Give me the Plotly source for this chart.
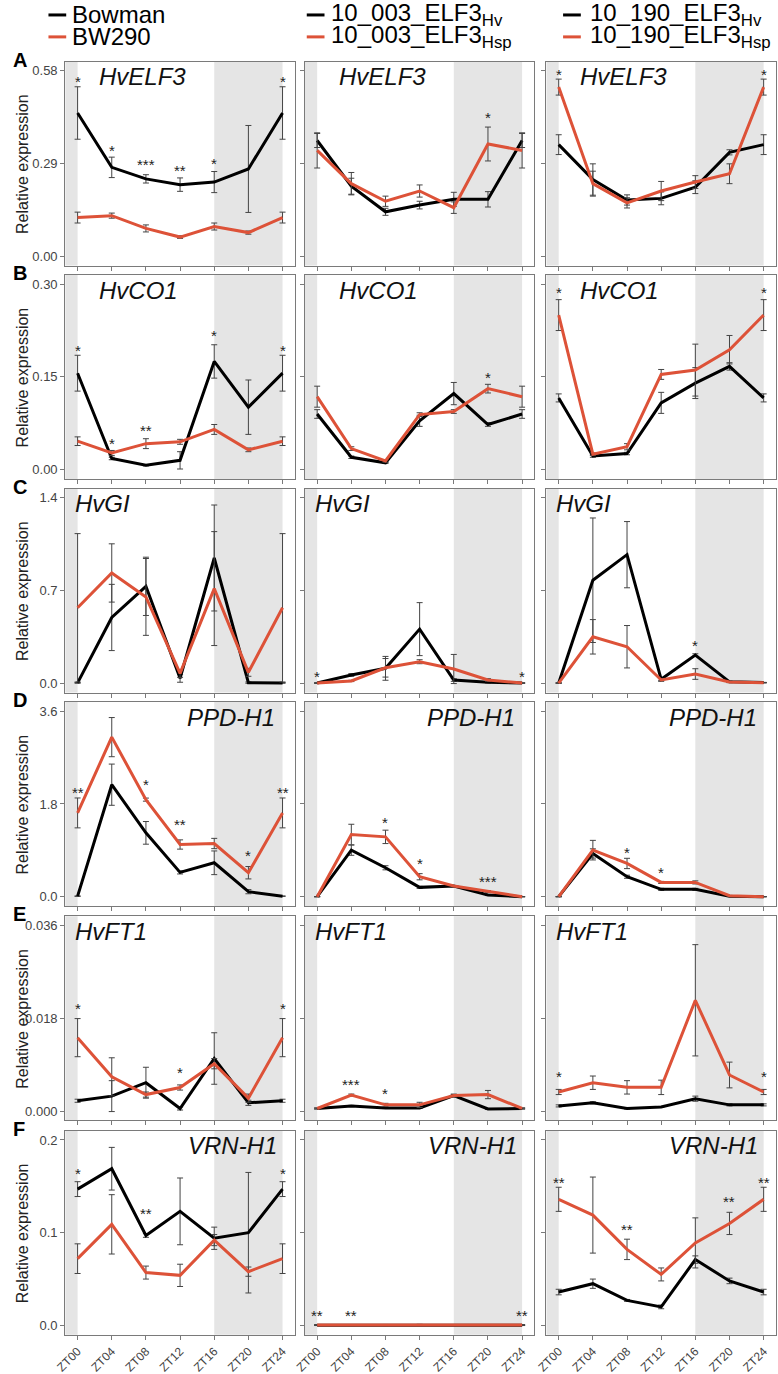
import plotly.graph_objects as go

# ---------------- data ----------------
ZT = [0, 4, 8, 12, 16, 20, 24]
ZT_LABELS = ["ZT00", "ZT04", "ZT08", "ZT12", "ZT16", "ZT20", "ZT24"]
GENES = ["HvELF3", "HvCO1", "HvGI", "PPD-H1", "HvFT1", "VRN-H1"]
ROW_LETTERS = ["A", "B", "C", "D", "E", "F"]
Y_TICKVALS = [[0.0, 0.29, 0.58], [0.0, 0.15, 0.30], [0.0, 0.7, 1.4],
              [0.0, 1.8, 3.6], [0.0, 0.018, 0.036], [0.0, 0.1, 0.2]]
Y_TICKTEXT = [["0.00", "0.29", "0.58"], ["0.00", "0.15", "0.30"], ["0.0", "0.7", "1.4"],
              ["0.0", "1.8", "3.6"], ["0.000", "0.018", "0.036"], ["0.0", "0.1", "0.2"]]
LEGEND_BLACK = ["Bowman", "10_003_ELF3<sub>Hv</sub>", "10_190_ELF3<sub>Hv</sub>"]
LEGEND_RED = ["BW290", "10_003_ELF3<sub>Hsp</sub>", "10_190_ELF3<sub>Hsp</sub>"]

# Row A  HvELF3
A1_black = [0.448, 0.278, 0.242, 0.224, 0.232, 0.273, 0.448]
A1_black_err = [0.082, 0.032, 0.013, 0.021, 0.033, 0.136, 0.082]
A1_red = [0.121, 0.127, 0.087, 0.060, 0.093, 0.074, 0.121]
A1_red_err = [0.017, 0.008, 0.011, 0.004, 0.011, 0.005, 0.017]
A1_stars = ["*", "*", "***", "**", "*", "", "*"]
A1_star_y = [0.559, 0.342, 0.299, 0.280, 0.302, None, 0.559]

A2_black = [0.362, 0.219, 0.139, 0.160, 0.178, 0.178, 0.362]
A2_black_err = [0.022, 0.025, 0.011, 0.012, 0.022, 0.024, 0.022]
A2_red = [0.331, 0.227, 0.172, 0.204, 0.152, 0.351, 0.331]
A2_red_err = [0.055, 0.035, 0.016, 0.019, 0.018, 0.053, 0.055]
A2_stars = ["", "", "", "", "", "*", ""]
A2_star_y = [None, None, None, None, None, 0.445, None]

A3_black = [0.349, 0.240, 0.176, 0.181, 0.216, 0.325, 0.349]
A3_black_err = [0.031, 0.049, 0.016, 0.020, 0.020, 0.008, 0.031]
A3_red = [0.529, 0.227, 0.167, 0.204, 0.232, 0.258, 0.529]
A3_red_err = [0.025, 0.039, 0.016, 0.030, 0.020, 0.031, 0.025]
A3_stars = ["*", "", "", "", "", "", "*"]
A3_star_y = [0.58, None, None, None, None, None, 0.58]

# Row B  HvCO1
B1_black = [0.156, 0.018, 0.007, 0.015, 0.175, 0.101, 0.156]
B1_black_err = [0.029, 0.002, 0.001, 0.014, 0.027, 0.044, 0.029]
B1_red = [0.046, 0.027, 0.042, 0.045, 0.065, 0.032, 0.046]
B1_red_err = [0.007, 0.004, 0.008, 0.004, 0.008, 0.003, 0.007]
B1_stars = ["*", "*", "**", "", "*", "", "*"]
B1_star_y = [0.199, 0.048, 0.069, None, 0.222, None, 0.199]

B2_black = [0.090, 0.020, 0.011, 0.079, 0.123, 0.073, 0.090]
B2_black_err = [0.007, 0.002, 0.001, 0.009, 0.018, 0.003, 0.007]
B2_red = [0.118, 0.034, 0.014, 0.089, 0.094, 0.131, 0.118]
B2_red_err = [0.017, 0.003, 0.002, 0.003, 0.003, 0.007, 0.017]
B2_stars = ["", "", "", "", "", "*", ""]
B2_star_y = [None, None, None, None, None, 0.155, None]

B3_black = [0.116, 0.022, 0.026, 0.108, 0.140, 0.167, 0.116]
B3_black_err = [0.0065, 0.002, 0.002, 0.017, 0.025, 0.006, 0.0065]
B3_red = [0.250, 0.025, 0.037, 0.154, 0.161, 0.194, 0.250]
B3_red_err = [0.025, 0.002, 0.005, 0.008, 0.042, 0.023, 0.025]
B3_stars = ["*", "", "", "", "", "", "*"]
B3_star_y = [0.292, None, None, None, None, None, 0.292]

# Row C  HvGI
C1_black = [0.003, 0.497, 0.732, 0.038, 0.946, 0.005, 0.003]
C1_black_err = [0.003, 0.25, 0.22, 0.03, 0.40, 0.005, 0.003]
C1_red = [0.57, 0.833, 0.652, 0.075, 0.715, 0.083, 0.57]
C1_red_err = [0.56, 0.22, 0.29, 0.03, 0.43, 0.03, 0.56]
C1_stars = ["", "", "", "", "", "", ""]
C1_star_y = [None] * 7

C2_black = [0.002, 0.063, 0.113, 0.409, 0.025, 0.008, 0.002]
C2_black_err = [0.001, 0.01, 0.09, 0.2, 0.01, 0.005, 0.001]
C2_red = [0.002, 0.018, 0.117, 0.163, 0.108, 0.025, 0.002]
C2_red_err = [0.001, 0.005, 0.07, 0.015, 0.11, 0.01, 0.001]
C2_stars = ["*", "", "", "", "", "", "*"]
C2_star_y = [0.075, None, None, None, None, None, 0.075]

C3_black = [0.002, 0.778, 0.971, 0.03, 0.213, 0.011, 0.006]
C3_black_err = [0.001, 0.47, 0.25, 0.01, 0.01, 0.005, 0.001]
C3_red = [0.002, 0.351, 0.276, 0.025, 0.07, 0.01, 0.004]
C3_red_err = [0.001, 0.13, 0.16, 0.01, 0.04, 0.005, 0.001]
C3_stars = ["", "", "", "", "*", "", ""]
C3_star_y = [None, None, None, None, 0.313, None, None]

# Row D  PPD-H1
D1_black = [0.01, 2.174, 1.239, 0.471, 0.658, 0.097, 0.01]
D1_black_err = [0.005, 0.40, 0.22, 0.03, 0.23, 0.04, 0.005]
D1_red = [1.626, 3.097, 1.884, 1.013, 1.032, 0.465, 1.626]
D1_red_err = [0.29, 0.38, 0.03, 0.09, 0.10, 0.12, 0.29]
D1_stars = ["**", "", "*", "**", "", "*", "**"]
D1_star_y = [2.084, None, 2.24, 1.471, None, 0.871, 2.084]

D2_black = [0.0, 0.903, 0.561, 0.181, 0.206, 0.032, 0.0]
D2_black_err = [0.0, 0.10, 0.04, 0.02, 0.01, 0.01, 0.0]
D2_red = [0.0, 1.206, 1.161, 0.387, 0.206, 0.097, 0.0]
D2_red_err = [0.0, 0.20, 0.13, 0.06, 0.01, 0.02, 0.0]
D2_stars = ["", "", "*", "*", "", "***", ""]
D2_star_y = [None, None, 1.503, 0.71, None, 0.355, None]

D3_black = [0.0, 0.839, 0.387, 0.142, 0.142, 0.01, 0.0]
D3_black_err = [0.0, 0.09, 0.03, 0.02, 0.02, 0.005, 0.0]
D3_red = [0.0, 0.903, 0.645, 0.277, 0.277, 0.02, 0.0]
D3_red_err = [0.0, 0.19, 0.10, 0.02, 0.03, 0.005, 0.0]
D3_stars = ["", "", "*", "*", "", "", ""]
D3_star_y = [None, None, 0.935, 0.529, None, None, None]

# Row E  HvFT1
E1_black = [0.0020, 0.0029, 0.0055, 0.0005, 0.0102, 0.0016, 0.0020]
E1_black_err = [0.0003, 0.003, 0.003, 0.0003, 0.005, 0.0005, 0.0003]
E1_red = [0.01425, 0.00664, 0.0032, 0.00457, 0.0092, 0.0025, 0.01425]
E1_red_err = [0.0037, 0.0037, 0.0005, 0.0005, 0.001, 0.0008, 0.0037]
E1_stars = ["*", "", "", "*", "", "", "*"]
E1_star_y = [0.0205, None, None, 0.0082, None, None, 0.0205]

E2_black = [0.0005, 0.0010, 0.0006, 0.0006, 0.0030, 0.0004, 0.0005]
E2_black_err = [0.0001, 0.0001, 0.0001, 0.0001, 0.0002, 0.0001, 0.0001]
E2_red = [0.0005, 0.0031, 0.0012, 0.0012, 0.0030, 0.0032, 0.0005]
E2_red_err = [0.0001, 0.0002, 0.0003, 0.0005, 0.0003, 0.0008, 0.0001]
E2_stars = ["", "***", "*", "", "", "", ""]
E2_star_y = [None, 0.0059, 0.0041, None, None, None, None]

E3_black = [0.0010, 0.0016, 0.0005, 0.0008, 0.0024, 0.0012, 0.0012]
E3_black_err = [0.0002, 0.0002, 0.0001, 0.0001, 0.0005, 0.0002, 0.0002]
E3_red = [0.0037, 0.0055, 0.0046, 0.0046, 0.0215, 0.0070, 0.0037]
E3_red_err = [0.0005, 0.0013, 0.0013, 0.0014, 0.0108, 0.0025, 0.0005]
E3_stars = ["*", "", "", "", "", "", "*"]
E3_star_y = [0.0074, None, None, None, None, None, 0.0074]

# Row F  VRN-H1
F1_black = [0.147, 0.169, 0.097, 0.123, 0.094, 0.100, 0.147]
F1_black_err = [0.008, 0.023, 0.002, 0.036, 0.012, 0.065, 0.008]
F1_red = [0.072, 0.109, 0.057, 0.054, 0.092, 0.058, 0.072]
F1_red_err = [0.016, 0.032, 0.007, 0.012, 0.006, 0.005, 0.016]
F1_stars = ["*", "", "**", "", "", "", "*"]
F1_star_y = [0.168, None, 0.125, None, None, None, 0.168]

F2_black = [0.0003, 0.0003, 0.0003, 0.0004, 0.0003, 0.0003, 0.0003]
F2_black_err = [0.0004, 0.0004, 0.0004, 0.0004, 0.0004, 0.0004, 0.0004]
F2_red = [0.0004, 0.0004, 0.0005, 0.0006, 0.0004, 0.0004, 0.0004]
F2_red_err = [0.0005, 0.0005, 0.0005, 0.0006, 0.0005, 0.0005, 0.0005]
F2_stars = ["**", "**", "", "", "", "", "**"]
F2_star_y = [0.0146, 0.0146, None, None, None, None, 0.0146]

F3_black = [0.036, 0.045, 0.027, 0.020, 0.071, 0.048, 0.036]
F3_black_err = [0.003, 0.005, 0.001, 0.002, 0.004, 0.003, 0.003]
F3_red = [0.136, 0.119, 0.082, 0.055, 0.089, 0.110, 0.136]
F3_red_err = [0.013, 0.041, 0.011, 0.007, 0.027, 0.012, 0.013]
F3_stars = ["**", "", "**", "", "", "**", "**"]
F3_star_y = [0.158, None, 0.1075, None, None, 0.137, 0.158]

PANELS = [
    [(A1_black, A1_black_err, A1_red, A1_red_err, A1_stars, A1_star_y),
     (A2_black, A2_black_err, A2_red, A2_red_err, A2_stars, A2_star_y),
     (A3_black, A3_black_err, A3_red, A3_red_err, A3_stars, A3_star_y)],
    [(B1_black, B1_black_err, B1_red, B1_red_err, B1_stars, B1_star_y),
     (B2_black, B2_black_err, B2_red, B2_red_err, B2_stars, B2_star_y),
     (B3_black, B3_black_err, B3_red, B3_red_err, B3_stars, B3_star_y)],
    [(C1_black, C1_black_err, C1_red, C1_red_err, C1_stars, C1_star_y),
     (C2_black, C2_black_err, C2_red, C2_red_err, C2_stars, C2_star_y),
     (C3_black, C3_black_err, C3_red, C3_red_err, C3_stars, C3_star_y)],
    [(D1_black, D1_black_err, D1_red, D1_red_err, D1_stars, D1_star_y),
     (D2_black, D2_black_err, D2_red, D2_red_err, D2_stars, D2_star_y),
     (D3_black, D3_black_err, D3_red, D3_red_err, D3_stars, D3_star_y)],
    [(E1_black, E1_black_err, E1_red, E1_red_err, E1_stars, E1_star_y),
     (E2_black, E2_black_err, E2_red, E2_red_err, E2_stars, E2_star_y),
     (E3_black, E3_black_err, E3_red, E3_red_err, E3_stars, E3_star_y)],
    [(F1_black, F1_black_err, F1_red, F1_red_err, F1_stars, F1_star_y),
     (F2_black, F2_black_err, F2_red, F2_red_err, F2_stars, F2_star_y),
     (F3_black, F3_black_err, F3_red, F3_red_err, F3_stars, F3_star_y)],
]

# ---------------- styling / layout ----------------
W, H = 778, 1374
FONT = "Liberation Sans, Arial, Helvetica, sans-serif"
RED = "#DD5238"
BLACK = "#000000"
SHADE = "#E5E5E5"
BORDER = "#7a7a7a"
TICKCOL = "#444444"
ERRCOL = "#444444"

COL_PX = [(55, 288), (298, 531), (543, 776)]
ROW_TOP_TICK_PX = [71, 285, 499.3, 713.3, 928.3, 1143.3]
SPAN_PX = 186.0
PAD_PX = 9.3
X_RANGE = [-1.45, 25.45]

# gene label placement: (x in hours, anchor)
GENE_POS = [(2.3, "left"), (2.3, "left"), (-0.5, "left"), (23.4, "right"), (-0.5, "left"), (23.6, "right")]
GENE_SIZE = [24, 24, 24, 24, 24, 24]

fig = go.Figure()
shapes = []
annotations = []
layout_axes = {}

for r in range(6):
    top_tick = Y_TICKVALS[r][-1]
    y_top_px = ROW_TOP_TICK_PX[r] - PAD_PX
    y_bot_px = ROW_TOP_TICK_PX[r] + SPAN_PX + PAD_PX
    ydom = [1 - y_bot_px / H, 1 - y_top_px / H]
    for c in range(3):
        n = r * 3 + c + 1
        xs = "" if n == 1 else str(n)
        xdom = [COL_PX[c][0] / W, COL_PX[c][1] / W]
        black, black_err, red, red_err, stars, star_y = PANELS[r][c]

        fig.add_trace(go.Scatter(
            x=ZT, y=black, mode="lines", xaxis="x" + xs, yaxis="y" + xs,
            line=dict(color=BLACK, width=3), showlegend=False, hoverinfo="skip",
            error_y=dict(type="data", array=black_err, color=ERRCOL, thickness=1, width=3)))
        fig.add_trace(go.Scatter(
            x=ZT, y=red, mode="lines", xaxis="x" + xs, yaxis="y" + xs,
            line=dict(color=RED, width=3), showlegend=False, hoverinfo="skip",
            error_y=dict(type="data", array=red_err, color=ERRCOL, thickness=1, width=3)))

        layout_axes["xaxis" + xs] = dict(
            domain=xdom, anchor="y" + xs, range=X_RANGE, tickvals=ZT,
            ticktext=ZT_LABELS, showticklabels=(r == 5), tickangle=-45,
            ticks="outside", ticklen=4, tickcolor=BORDER, showgrid=False, zeroline=False,
            showline=True, mirror=True, linecolor=BORDER, linewidth=1,
            tickfont=dict(family=FONT, size=12, color=TICKCOL))
        layout_axes["yaxis" + xs] = dict(
            domain=ydom, anchor="x" + xs, range=[-0.05 * top_tick, 1.05 * top_tick],
            tickvals=Y_TICKVALS[r], ticktext=Y_TICKTEXT[r], showticklabels=(c == 0),
            ticks="outside", ticklen=4, tickcolor=BORDER, showgrid=False, zeroline=False,
            showline=True, mirror=True, linecolor=BORDER, linewidth=1,
            tickfont=dict(family=FONT, size=13, color=TICKCOL))

        # light / dark shading
        for x0, x1 in [(X_RANGE[0], 0), (16, 24)]:
            shapes.append(dict(type="rect", xref="x" + xs, yref="y" + xs + " domain",
                               x0=x0, x1=x1, y0=0, y1=1, fillcolor=SHADE,
                               line=dict(width=0), layer="below"))

        # gene label
        gx, ganchor = GENE_POS[r]
        annotations.append(dict(
            x=gx, y=top_tick, xref="x" + xs, yref="y" + xs, text="<i>" + GENES[r] + "</i>",
            showarrow=False, xanchor=ganchor, yanchor="middle", yshift=-6,
            font=dict(family=FONT, size=GENE_SIZE[r], color="#111111")))

        # significance stars
        for i, s in enumerate(stars):
            if s:
                annotations.append(dict(
                    x=ZT[i], y=star_y[i], xref="x" + xs, yref="y" + xs, text=s,
                    showarrow=False, xanchor="center", yanchor="middle", yshift=-3.5,
                    font=dict(family=FONT, size=15, color="#222222")))

    # row letter
    annotations.append(dict(
        x=0, y=1 - (y_top_px - 2) / H, xref="paper", yref="paper",
        text="<b>" + ROW_LETTERS[r] + "</b>", showarrow=False, xanchor="left",
        yanchor="middle", font=dict(family=FONT, size=20, color="#000000")))
    # y title
    annotations.append(dict(
        x=1 / W, y=1 - (y_top_px + y_bot_px) / 2 / H, xref="paper", yref="paper",
        text="Relative expression", textangle=-90, showarrow=False,
        xanchor="left", yanchor="middle",
        font=dict(family=FONT, size=16, color="#222222")))

# legends (three groups at the top)
LEG_LINE_PX = [(38, 56), (300, 318), (560, 578)]
LEG_TEXT_PX = [61, 324, 586]
LEG_ROW_PX = [15, 37]
for g in range(3):
    for k, (name, col) in enumerate([(LEGEND_BLACK[g], BLACK), (LEGEND_RED[g], RED)]):
        ypx = LEG_ROW_PX[k]
        shapes.append(dict(type="line", xref="paper", yref="paper",
                           x0=LEG_LINE_PX[g][0] / W, x1=LEG_LINE_PX[g][1] / W,
                           y0=1 - ypx / H, y1=1 - ypx / H,
                           line=dict(color=col, width=3)))
        annotations.append(dict(
            x=LEG_TEXT_PX[g] / W, y=1 - ypx / H, xref="paper", yref="paper",
            text=name, showarrow=False, xanchor="left", yanchor="middle",
            borderpad=0, font=dict(family=FONT, size=24, color="#000000")))

fig.update_layout(
    width=W, height=H, autosize=False,
    margin=dict(l=0, r=0, t=0, b=0),
    paper_bgcolor="white", plot_bgcolor="white",
    shapes=shapes, annotations=annotations, showlegend=False,
    font=dict(family=FONT),
    **layout_axes)

fig.write_html("out.html", config={"displayModeBar": False},
               post_script="document.body.style.margin='0px';")
